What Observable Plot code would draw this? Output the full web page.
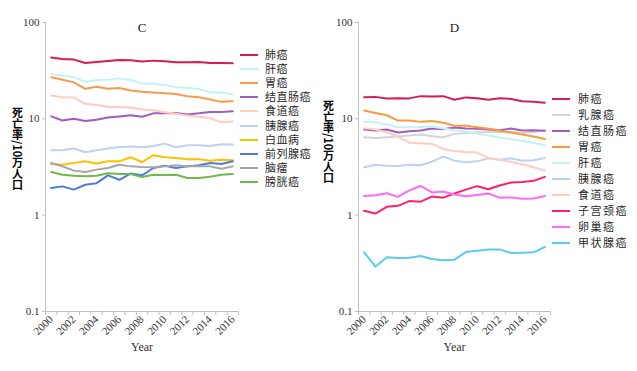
<!DOCTYPE html>
<html><head><meta charset="utf-8">
<script src="https://cdn.jsdelivr.net/npm/d3@7"></script>
<script src="https://cdn.jsdelivr.net/npm/@observablehq/plot@0.6"></script>
<style>
body{margin:0;background:#fff}
#wrap{position:relative;width:637px;height:371px;overflow:hidden}
.panel{position:absolute;top:0}
.legrow{position:absolute;display:flex;align-items:center;font-family:"Liberation Serif","Noto Sans CJK SC",serif;font-size:11px;color:#2a2a2a;white-space:nowrap}
.legrow span.sw{display:inline-block;height:2px}
.legrow span.tx{display:inline-block;overflow:visible}
</style>
</head><body><div id="wrap"></div>
<script>
const years = d3.range(2000, 2017);

// Panel C (male)
const maleNames = ["肺癌","肝癌","胃癌","结直肠癌","食道癌","胰腺癌","白血病","前列腺癌","脑瘤","膀胱癌"];
const maleColors = ["#d81b50","#c5f1f4","#fa9a4f","#a25cc0","#ffcbc3","#bdd2f2","#ffc000","#4a7ed8","#a6a6a6","#72b84b"];
const maleLung = [43.2,41.9,41.2,38.0,38.9,39.9,40.8,40.5,39.3,40.2,39.6,38.6,38.6,38.9,38.0,38.0,37.7];
const maleLiver = [29.0,28.1,27.2,24.1,25.3,25.5,26.3,25.3,23.3,23.1,22.4,21.4,20.9,20.4,18.9,18.8,17.9];
const maleStomach = [27.0,25.5,23.9,20.5,21.5,20.5,20.9,19.7,19.1,18.8,18.4,18.1,17.2,16.8,15.9,15.0,15.2];
const maleColorectal = [10.6,9.6,10.0,9.5,9.8,10.3,10.6,10.9,10.5,11.4,11.4,11.5,11.1,11.4,11.8,11.8,12.0];
const maleEsophagus = [17.5,16.8,16.7,14.3,13.9,13.3,13.3,13.1,12.5,12.3,11.7,11.3,10.8,10.5,10.2,9.2,9.4];
const malePancreas = [4.72,4.72,4.94,4.50,4.72,4.91,5.10,5.15,5.07,5.23,5.53,5.07,5.32,5.32,5.23,5.45,5.41];
const maleLeukemia = [3.40,3.34,3.49,3.62,3.43,3.62,3.62,3.99,3.56,4.19,3.99,3.93,3.80,3.80,3.68,3.77,3.71];
const maleProstate = [1.91,1.99,1.84,2.07,2.15,2.59,2.33,2.70,2.59,3.09,3.26,3.09,3.21,3.29,3.48,3.40,3.62];
const maleBrain = [3.48,3.21,2.90,2.81,2.97,3.09,3.34,3.21,3.16,3.14,3.21,3.29,3.21,3.21,3.21,3.04,3.21];
const maleBladder = [2.81,2.63,2.57,2.53,2.57,2.72,2.67,2.67,2.49,2.63,2.61,2.63,2.43,2.43,2.51,2.63,2.67];

// Panel D (female)
const femaleNames = ["肺癌","乳腺癌","结直肠癌","胃癌","肝癌","胰腺癌","食道癌","子宫颈癌","卵巢癌","甲状腺癌"];
const femaleColors = ["#d11d5a","#d4d4d4","#a25cc0","#fa9a3f","#c5f1f4","#bdd2f2","#ffcbc3","#ff1f6c","#ff6bf5","#5fcaf0"];
const femaleLung = [16.8,16.9,16.3,16.4,16.3,17.2,17.1,17.2,15.8,16.7,16.4,15.8,16.4,16.1,15.2,15.0,14.7];
const femaleBreast = [6.44,6.34,6.44,6.55,6.70,6.87,6.60,6.44,6.98,7.14,7.26,7.32,7.32,7.32,7.14,7.32,7.55];
const femaleColorectal = [7.74,7.55,7.74,7.20,7.44,7.55,7.93,7.80,8.13,7.93,7.87,7.74,7.62,7.93,7.55,7.62,7.50];
const femaleStomach = [12.2,11.5,10.9,9.6,9.6,9.3,9.5,9.1,8.5,8.5,8.2,7.9,7.55,7.2,6.87,6.55,6.19];
const femaleLiver = [9.3,9.2,8.73,8.19,8.19,8.25,8.32,7.93,7.62,7.38,7.03,6.70,6.39,6.14,5.91,5.62,5.36];
const femalePancreas = [3.14,3.34,3.26,3.23,3.34,3.30,3.59,4.06,3.68,3.54,3.62,3.89,3.77,3.89,3.68,3.71,3.93];
const femaleEsophagus = [8.0,7.74,7.26,6.55,5.66,5.58,5.49,4.87,4.64,4.53,4.46,3.93,3.77,3.59,3.37,3.14,2.90];
const femaleCervix = [1.11,1.04,1.22,1.25,1.40,1.38,1.56,1.52,1.68,1.84,2.0,1.86,2.03,2.18,2.21,2.27,2.5];
const femaleOvary = [1.58,1.61,1.69,1.55,1.81,2.01,1.72,1.76,1.64,1.57,1.62,1.68,1.52,1.53,1.48,1.49,1.58];
const femaleThyroid = [0.411,0.292,0.365,0.359,0.362,0.377,0.351,0.340,0.345,0.414,0.427,0.441,0.441,0.405,0.408,0.411,0.467];

const yTicks = [0.1, 1, 10, 100];
const yLabel = "死亡率/10万人口";

function panel(opts) {
  const {title, names, colors, series, left, width, marginLeft, marginRight, labelDx, labelDy, legend} = opts;
  const data = names.flatMap((n, k) => series[k].map((v, i) => ({name: n, year: years[i], value: v})));
  const chart = Plot.plot({
    width, height: 371, marginLeft, marginRight, marginTop: 22, marginBottom: 60,
    style: {fontFamily: "'Liberation Serif', 'Times New Roman', serif", fontSize: "11px", color: "#333", background: "transparent"},
    x: {domain: [1999.5, 2016.5]},
    y: {type: "log", domain: [0.1, 100]},
    color: {domain: names, range: colors},
    marks: [
      Plot.axisX(d3.range(1999.5, 2017, 1), {tickSize: 4, tickFormat: () => "", stroke: "#bfbfbf", label: null}),
      Plot.axisX(d3.range(2000, 2017, 2), {tickSize: 0, tickRotate: -45, tickPadding: 6, tickFormat: d => String(d), fill: "#333", label: null}),
      Plot.axisY(yTicks, {tickSize: 3, tickPadding: 3, tickFormat: d => String(d), stroke: "#bfbfbf", fill: "#333", label: null}),
      Plot.ruleY([0.1], {stroke: "#bfbfbf"}),
      Plot.ruleX([1999.5], {stroke: "#bfbfbf"}),
      Plot.line(data, {x: "year", y: "value", z: "name", stroke: "name", strokeWidth: 2}),
      Plot.text([title], {text: d => d, frameAnchor: "top", fontSize: 13, fill: "#222"}),
      Plot.text(["Year"], {text: d => d, frameAnchor: "bottom", dy: 39, fontSize: 12, fill: "#333"}),
      Plot.text([yLabel], {text: d => d, frameAnchor: "left", textAnchor: "middle", dx: labelDx, dy: labelDy, fontSize: 11, fontWeight: "bold", fill: "#000", fontFamily: "'Noto Sans CJK SC', sans-serif"})
    ]
  });
  d3.select(chart).selectAll("text").filter(function() { return this.textContent === yLabel; })
    .style("writing-mode", "vertical-rl").style("text-orientation", "mixed").attr("dy", null);
  const div = document.createElement("div");
  div.className = "panel";
  div.style.left = left + "px";
  div.appendChild(chart);
  names.forEach((n, k) => {
    const row = document.createElement("div");
    row.className = "legrow";
    row.style.left = legend.x + "px";
    row.style.top = (legend.y0 + k * legend.step - legend.step / 2) + "px";
    row.style.height = legend.step + "px";
    row.style.lineHeight = legend.step + "px";
    row.style.letterSpacing = legend.spacing + "px";
    const sw = document.createElement("span");
    sw.className = "sw";
    sw.style.width = legend.lineW + "px";
    sw.style.background = colors[k];
    sw.style.marginRight = legend.gap + "px";
    const tx = document.createElement("span");
    tx.className = "tx";
    tx.style.height = legend.step + "px";
    tx.textContent = n;
    row.appendChild(sw); row.appendChild(tx);
    div.appendChild(row);
  });
  document.getElementById("wrap").appendChild(div);
}

panel({
  title: "C", names: maleNames, colors: maleColors,
  series: [maleLung, maleLiver, maleStomach, maleColorectal, maleEsophagus, malePancreas, maleLeukemia, maleProstate, maleBrain, maleBladder],
  left: 0, width: 320, marginLeft: 45, marginRight: 82, labelDx: -28, labelDy: -22,
  legend: {x: 240, y0: 55.3, step: 14.05, lineW: 18, gap: 7, spacing: 0.5}
});
panel({
  title: "D", names: femaleNames, colors: femaleColors,
  series: [femaleLung, femaleBreast, femaleColorectal, femaleStomach, femaleLiver, femalePancreas, femaleEsophagus, femaleCervix, femaleOvary, femaleThyroid],
  left: 320, width: 317, marginLeft: 38, marginRight: 87, labelDx: -30, labelDy: -29,
  legend: {x: 232, y0: 98.5, step: 16.0, lineW: 18, gap: 8, spacing: 1.5}
});
</script>
</body></html>
